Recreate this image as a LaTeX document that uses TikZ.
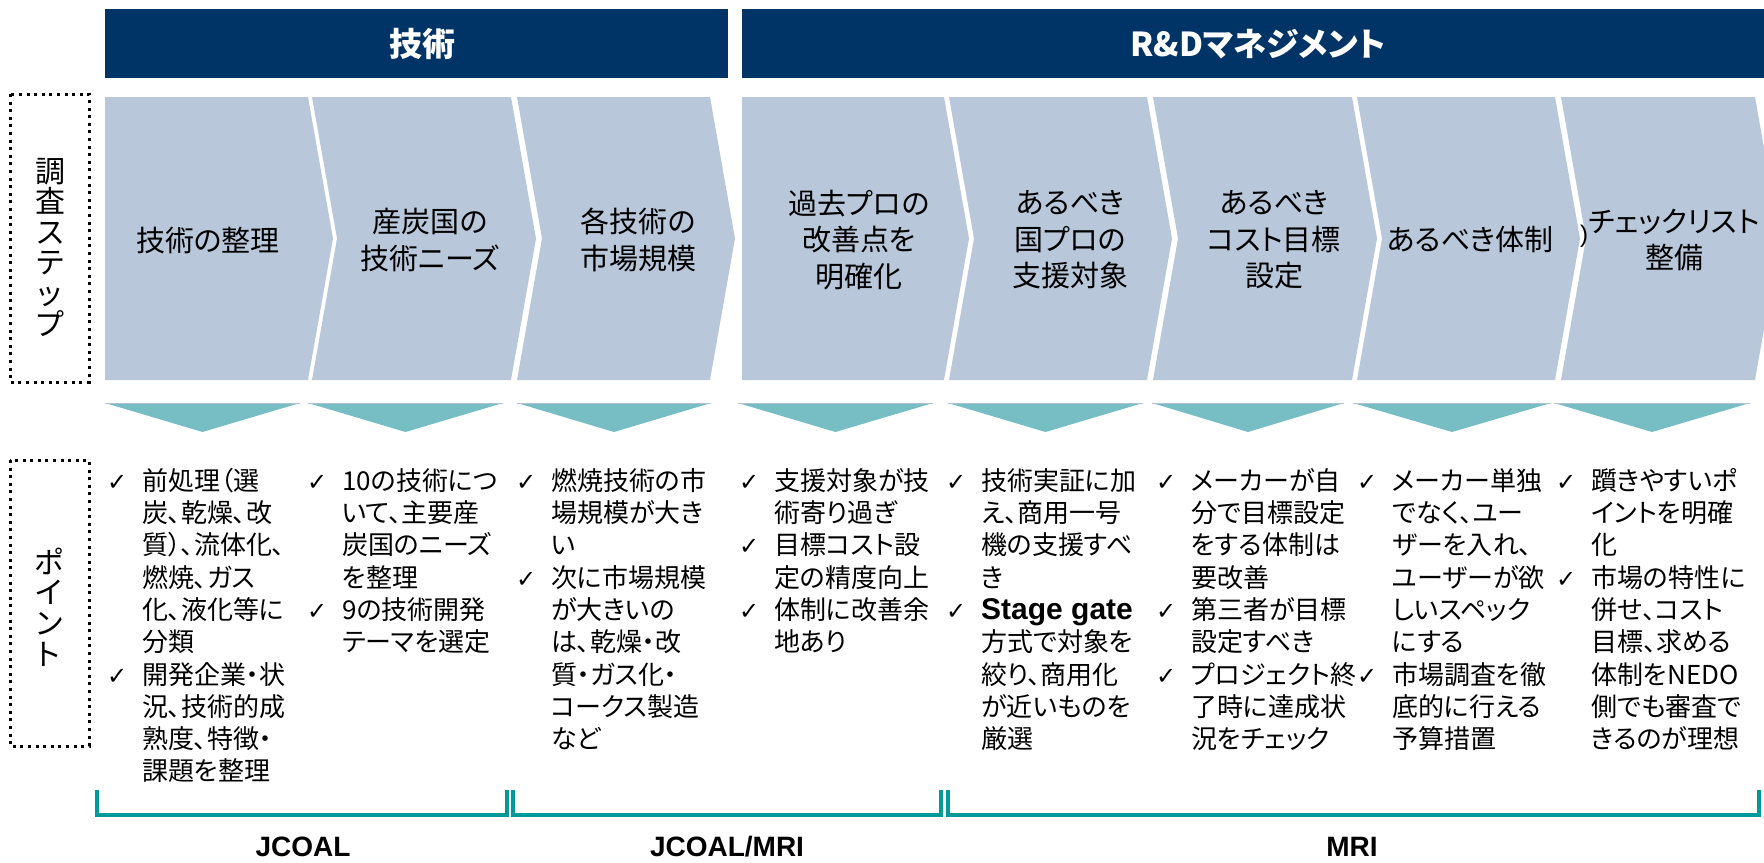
\documentclass[tikz,border=0pt]{standalone}
\usepackage{fontspec}
\setmainfont{Noto Sans CJK JP}[RawFeature=+palt]
\newfontfamily\ckfont{DejaVu Sans}
\newfontfamily\latin{Liberation Sans}
\definecolor{hdrblue}{RGB}{0,51,102}
\definecolor{chevfill}{RGB}{185,199,218}
\definecolor{trifill}{RGB}{118,190,196}
\definecolor{tririmc}{RGB}{176,190,212}
\definecolor{brteal}{RGB}{0,153,153}
\newcommand{\ckm}{\llap{{\ckfont\fontsize{24}{24}\selectfont ✓}\hspace{15pt}}\rule{0pt}{23pt}}
\newcommand{\stg}[1]{{\latin\bfseries\fontsize{30}{32}\selectfont #1}}
\tikzset{
  hdrtxt/.style={text=white, font=\bfseries\fontsize{33}{36}\selectfont, inner sep=0pt},
  chev/.style={fill=chevfill},
  tri/.style={fill=trifill},
  tririm/.style={draw=tririmc, line width=1.5pt},
  lbl/.style={font=\fontsize{29}{36.5}\selectfont, align=center, text=black, inner sep=0pt},
  pts/.style={font=\fontsize{26}{32.3}\selectfont, align=left, anchor=north west, inner sep=0pt, text=black},
  side/.style={font=\fontsize{30}{30.6}\selectfont, align=center, inner sep=0pt},
  dotbox/.style={draw=black, line width=3pt, dash pattern=on 3pt off 4.6pt},
  brk/.style={draw=brteal, line width=4pt},
  who/.style={font=\latin\bfseries\fontsize{28}{30}\selectfont, inner sep=0pt}
}
\begin{document}
\begin{tikzpicture}[x=1pt,y=-1pt]
\useasboundingbox (0,0) rectangle (1764,862);
\clip (0,0) rectangle (1764,862);
% header bars
\fill[hdrblue] (105,9) rectangle (728,78);
\fill[hdrblue] (742,9) rectangle (1764,78);
\node[hdrtxt] (h1) at (422,44) {技術};
\node[hdrtxt] (h2) at (1258,44) {R\&Dマネジメント};
% chevrons
\foreach \L/\R in {105/308, 742/944}
  \fill[chev] (\L,97) -- (\R,97) -- (\R+25,238.5) -- (\R,380) -- (\L,380) -- cycle;
\foreach \L/\R in {312/511, 517/710, 949/1147, 1153/1352, 1357/1555, 1561/1755}
  \fill[chev] (\L,97) -- (\R,97) -- (\R+25,238.5) -- (\R,380) -- (\L,380) -- (\L+25,238.5) -- cycle;
\node[lbl] (s1) at (208,240) {技術の整理};
\node[lbl] (s2) at (430,240) {産炭国の\\技術ニーズ};
\node[lbl] (s3) at (638,240) {各技術の\\市場規模};
\node[lbl] (s4) at (859,240) {過去プロの\\改善点を\\明確化};
\node[lbl] (s5) at (1070,240) {あるべき\\国プロの\\支援対象};
\node[lbl] (s6) at (1274,240) {あるべき\\コスト目標\\設定};
\node[lbl] (s7) at (1470,240) {あるべき体制};
\node[lbl] (s8) at (1674,240) {チェックリスト\\整備};
\node[font=\latin\fontsize{24}{24}\selectfont, inner sep=0pt] (par) at (1584,236) {)};
% triangles
\foreach \L/\R in {105/300, 308/503, 517/711, 738/933, 948/1143, 1152/1344, 1353/1551, 1554/1750}{
  \fill[tri] (\L,403) -- (\R,403) -- ({(\L+\R)/2},432) -- cycle;
  \draw[tririm] (\L,403.5) -- (\R,403.5);
}
% side labels
\draw[dotbox] (10,94) rectangle (89,382);
\node[side] (lab1) at (50,247) {調\\査\\ス\\テ\\ッ\\プ};
\draw[dotbox] (10,460) rectangle (89,746);
\node[side] (lab2) at (49,607) {ポ\\イ\\ン\\ト};
% points
\node[pts] (p1) at (142,467) {\ckm 前処理（選\\炭、乾燥、改\\質）、流体化、\\燃焼、ガス\\化、液化等に\\分類\\\ckm 開発企業・状\\況、技術的成\\熟度、特徴・\\課題を整理};
\node[pts] (p2) at (342,467) {\ckm 10の技術につ\\いて、主要産\\炭国のニーズ\\を整理\\\ckm 9の技術開発\\テーマを選定};
\node[pts] (p3) at (551,467) {\ckm 燃焼技術の市\\場規模が大き\\い\\\ckm 次に市場規模\\が大きいの\\は、乾燥・改\\質・ガス化・\\コークス製造\\など};
\node[pts] (p4) at (774,467) {\ckm 支援対象が技\\術寄り過ぎ\\\ckm 目標コスト設\\定の精度向上\\\ckm 体制に改善余\\地あり};
\node[pts] (p5) at (981,467) {\ckm 技術実証に加\\え、商用一号\\機の支援すべ\\き\\\ckm \stg{Stage gate}\\方式で対象を\\絞り、商用化\\が近いものを\\厳選};
\node[pts] (p6) at (1191,467) {\ckm メーカーが自\\分で目標設定\\をする体制は\\要改善\\\ckm 第三者が目標\\設定すべき\\\ckm プロジェクト終\\了時に達成状\\況をチェック};
\node[pts] (p7) at (1392,467) {\ckm メーカー単独\\でなく、ユー\\ザーを入れ、\\ユーザーが欲\\しいスペック\\にする\\\ckm 市場調査を徹\\底的に行える\\予算措置};
\node[pts] (p8) at (1591,467) {\ckm 躓きやすいポ\\イントを明確\\化\\\ckm 市場の特性に\\併せ、コスト\\目標、求める\\体制をNEDO\\側でも審査で\\きるのが理想};
% brackets
\draw[brk] (97,790) -- (97,815) -- (507,815) -- (507,790);
\draw[brk] (513,790) -- (513,815) -- (941,815) -- (941,790);
\draw[brk] (948,790) -- (948,815) -- (1759,815) -- (1759,790);
\node[who] (w1) at (303,847) {JCOAL};
\node[who] (w2) at (727,847) {JCOAL/MRI};
\node[who] (w3) at (1352,847) {MRI};
\end{tikzpicture}
\end{document}
